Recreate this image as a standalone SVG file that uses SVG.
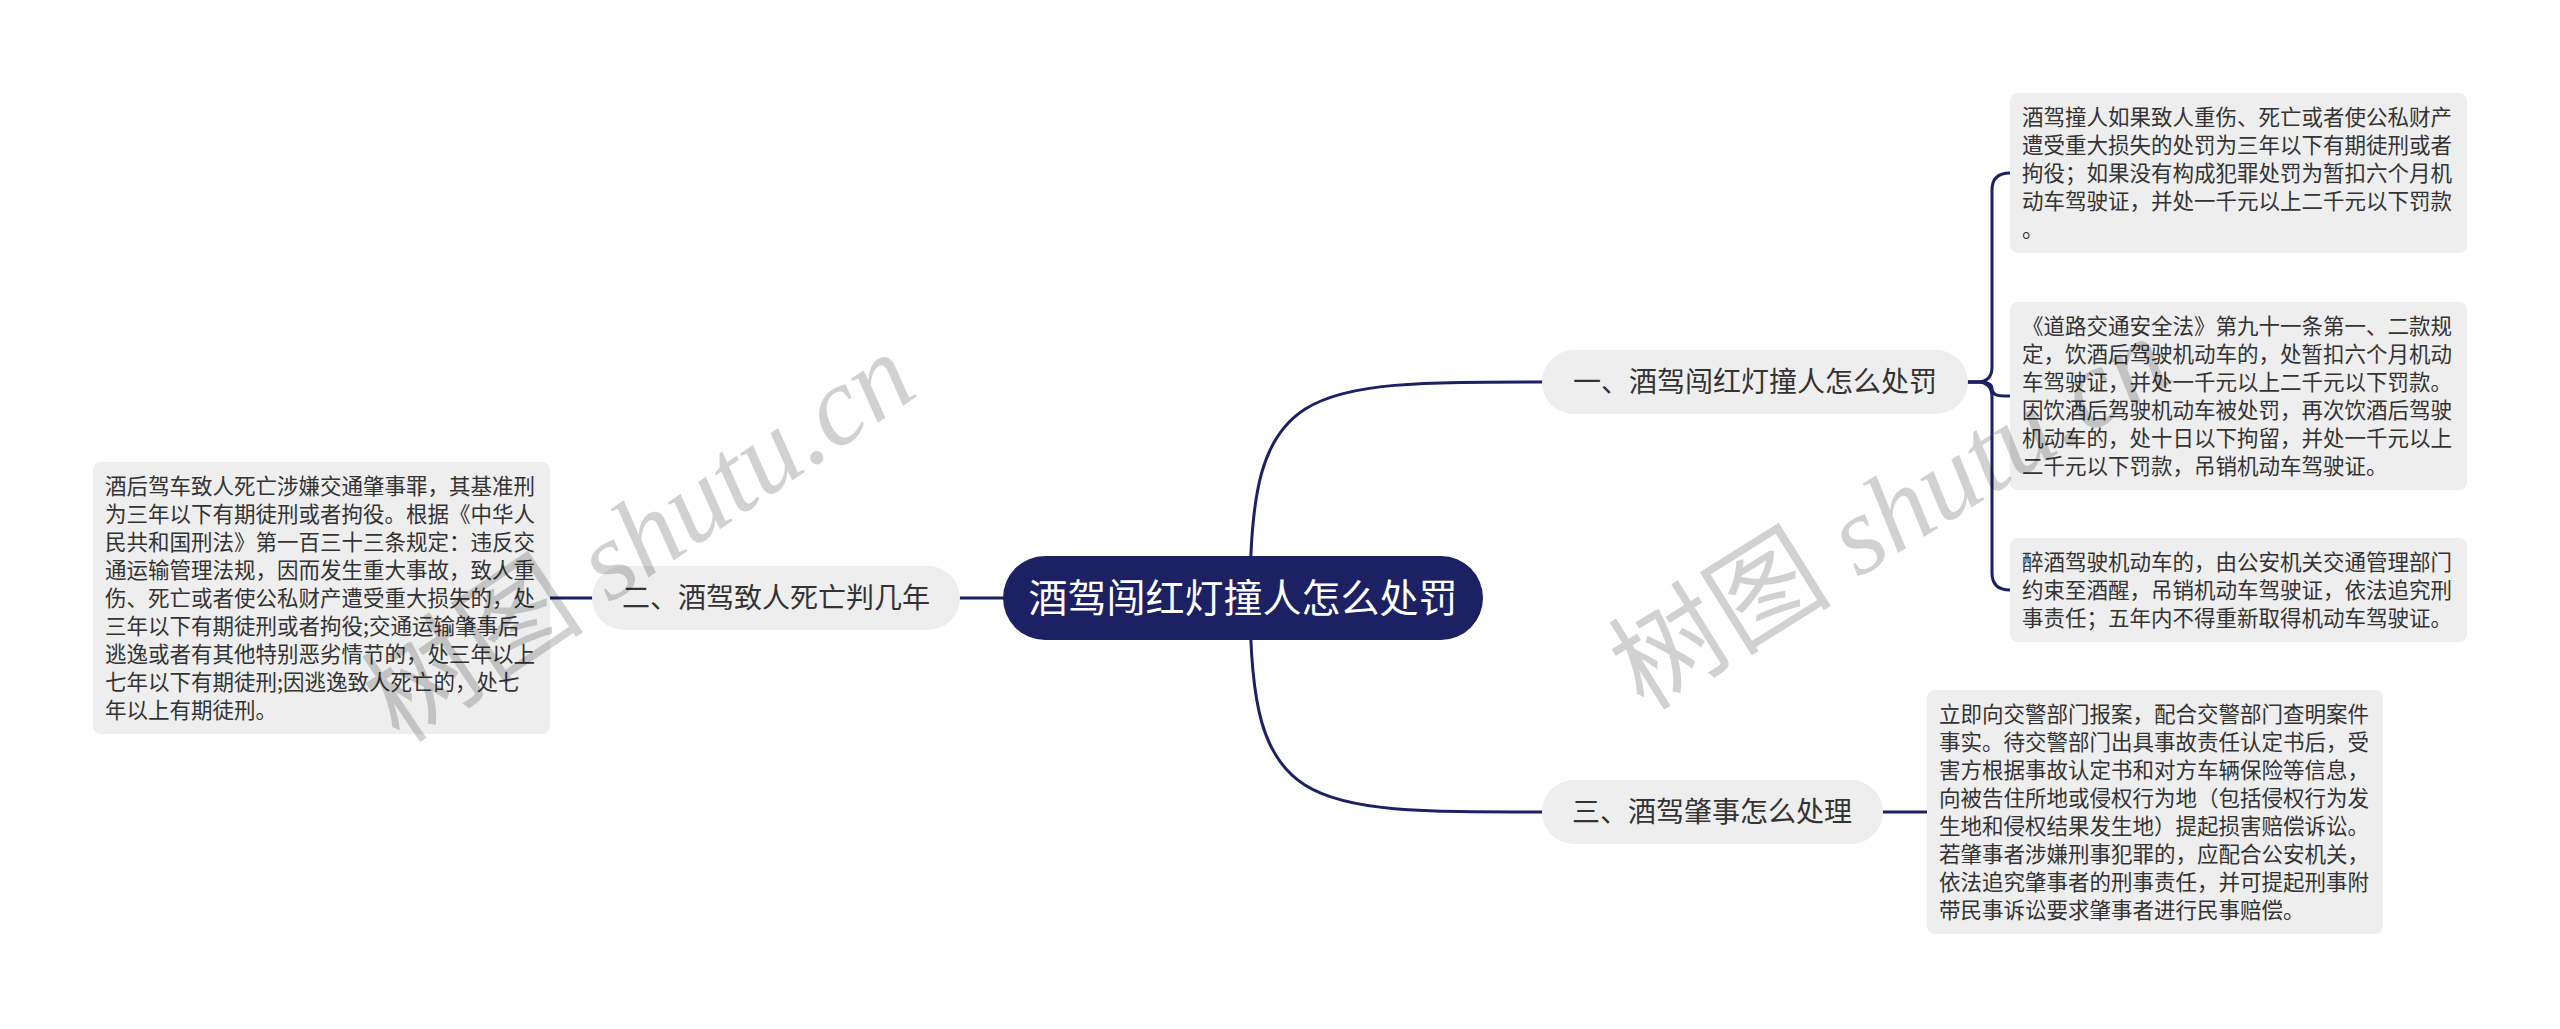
<svg xmlns="http://www.w3.org/2000/svg" width="2560" height="1029" viewBox="0 0 2560 1029">
<style>
.conn{fill:none;stroke:#1b2163;stroke-width:3;stroke-linecap:round}
.root{fill:#1b2163}
.rootText{font-family:"Noto Sans CJK SC","Noto Sans CJK TC",sans-serif;font-size:39px;fill:#ffffff;text-anchor:middle}
.branch{fill:#eeeeee}
.branchText{font-family:"Noto Sans CJK SC","Noto Sans CJK TC",sans-serif;font-size:28px;fill:#333333;text-anchor:middle}
.leaf{fill:#eeeeee}
.leafText{font-family:"Noto Sans CJK SC","Noto Sans CJK TC",sans-serif;font-size:21.5px;fill:#333333}
.wm{fill:#000000;fill-opacity:0.18;font-size:112px}
.wmCjk{font-family:"Noto Sans CJK SC",sans-serif}
.wmLat{font-family:"Liberation Serif",serif;font-style:italic}
</style>
<rect width="2560" height="1029" fill="#ffffff"/>
<g id="connectors">
<path class="conn" d="M1250,598 C1250,382 1300,382 1542,382"/>
<path class="conn" d="M1250,598 C1250,812 1300,812 1542,812"/>
<path class="conn" d="M1003,598 L960,598"/>
<path class="conn" d="M592,598 L550,598"/>
<path class="conn" d="M1883,812 L1927,812"/>
<path class="conn" d="M1968,382 L1977,382 Q1992,382 1992,367 L1992,190 Q1992,173 2010,173"/>
<path class="conn" d="M1968,382 L1980,382 Q1992,382 1992,389 Q1992,396 2004,396 L2010,396"/>
<path class="conn" d="M1968,382 L1977,382 Q1992,382 1992,397 L1992,573 Q1992,590 2010,590"/>
</g>
<g id="root">
<rect class="root" x="1003" y="556" width="480" height="84" rx="42"/>
<text class="rootText" x="1243" y="612">酒驾闯红灯撞人怎么处罚</text>
</g>
<g id="branch1">
<rect class="branch" x="1542" y="350" width="426" height="64" rx="32"/>
<text class="branchText" x="1755" y="392">一、酒驾闯红灯撞人怎么处罚</text>
</g>
<g id="branch2">
<rect class="branch" x="592" y="566" width="368" height="64" rx="32"/>
<text class="branchText" x="776" y="608">二、酒驾致人死亡判几年</text>
</g>
<g id="branch3">
<rect class="branch" x="1542" y="780" width="341" height="64" rx="32"/>
<text class="branchText" x="1712" y="822">三、酒驾肇事怎么处理</text>
</g>
<g id="leaf1">
<rect class="leaf" x="2010" y="93" width="457" height="160" rx="8"/>
<text class="leafText">
<tspan x="2022" y="125">酒驾撞人如果致人重伤、死亡或者使公私财产</tspan>
<tspan x="2022" y="153">遭受重大损失的处罚为三年以下有期徒刑或者</tspan>
<tspan x="2022" y="181">拘役；如果没有构成犯罪处罚为暂扣六个月机</tspan>
<tspan x="2022" y="209">动车驾驶证，并处一千元以上二千元以下罚款</tspan>
<tspan x="2022" y="237">。</tspan>
</text>
</g>
<g id="leaf2">
<rect class="leaf" x="2010" y="302" width="457" height="188" rx="8"/>
<text class="leafText">
<tspan x="2022" y="334">《道路交通安全法》第九十一条第一、二款规</tspan>
<tspan x="2022" y="362">定，饮酒后驾驶机动车的，处暂扣六个月机动</tspan>
<tspan x="2022" y="390">车驾驶证，并处一千元以上二千元以下罚款。</tspan>
<tspan x="2022" y="418">因饮酒后驾驶机动车被处罚，再次饮酒后驾驶</tspan>
<tspan x="2022" y="446">机动车的，处十日以下拘留，并处一千元以上</tspan>
<tspan x="2022" y="474">二千元以下罚款，吊销机动车驾驶证。</tspan>
</text>
</g>
<g id="leaf3">
<rect class="leaf" x="2010" y="538" width="457" height="104" rx="8"/>
<text class="leafText">
<tspan x="2022" y="570">醉酒驾驶机动车的，由公安机关交通管理部门</tspan>
<tspan x="2022" y="598">约束至酒醒，吊销机动车驾驶证，依法追究刑</tspan>
<tspan x="2022" y="626">事责任；五年内不得重新取得机动车驾驶证。</tspan>
</text>
</g>
<g id="leaf4">
<rect class="leaf" x="93" y="462" width="457" height="272" rx="8"/>
<text class="leafText">
<tspan x="105" y="494">酒后驾车致人死亡涉嫌交通肇事罪，其基准刑</tspan>
<tspan x="105" y="522">为三年以下有期徒刑或者拘役。根据《中华人</tspan>
<tspan x="105" y="550">民共和国刑法》第一百三十三条规定：违反交</tspan>
<tspan x="105" y="578">通运输管理法规，因而发生重大事故，致人重</tspan>
<tspan x="105" y="606">伤、死亡或者使公私财产遭受重大损失的，处</tspan>
<tspan x="105" y="634">三年以下有期徒刑或者拘役;交通运输肇事后</tspan>
<tspan x="105" y="662">逃逸或者有其他特别恶劣情节的，处三年以上</tspan>
<tspan x="105" y="690">七年以下有期徒刑;因逃逸致人死亡的，处七</tspan>
<tspan x="105" y="718">年以上有期徒刑。</tspan>
</text>
</g>
<g id="leaf5">
<rect class="leaf" x="1927" y="690" width="456" height="244" rx="8"/>
<text class="leafText">
<tspan x="1939" y="722">立即向交警部门报案，配合交警部门查明案件</tspan>
<tspan x="1939" y="750">事实。待交警部门出具事故责任认定书后，受</tspan>
<tspan x="1939" y="778">害方根据事故认定书和对方车辆保险等信息，</tspan>
<tspan x="1939" y="806">向被告住所地或侵权行为地（包括侵权行为发</tspan>
<tspan x="1939" y="834">生地和侵权结果发生地）提起损害赔偿诉讼。</tspan>
<tspan x="1939" y="862">若肇事者涉嫌刑事犯罪的，应配合公安机关，</tspan>
<tspan x="1939" y="890">依法追究肇事者的刑事责任，并可提起刑事附</tspan>
<tspan x="1939" y="918">带民事诉讼要求肇事者进行民事赔偿。</tspan>
</text>
</g>
<g id="watermarks">
<text class="wm" transform="translate(400,745) rotate(-34)"><tspan class="wmCjk">树图</tspan><tspan class="wmLat"> shutu.cn</tspan></text>
<text class="wm" transform="translate(1644,712) rotate(-32)"><tspan class="wmCjk">树图</tspan><tspan class="wmLat"> shutu.cn</tspan></text>
</g>
</svg>
